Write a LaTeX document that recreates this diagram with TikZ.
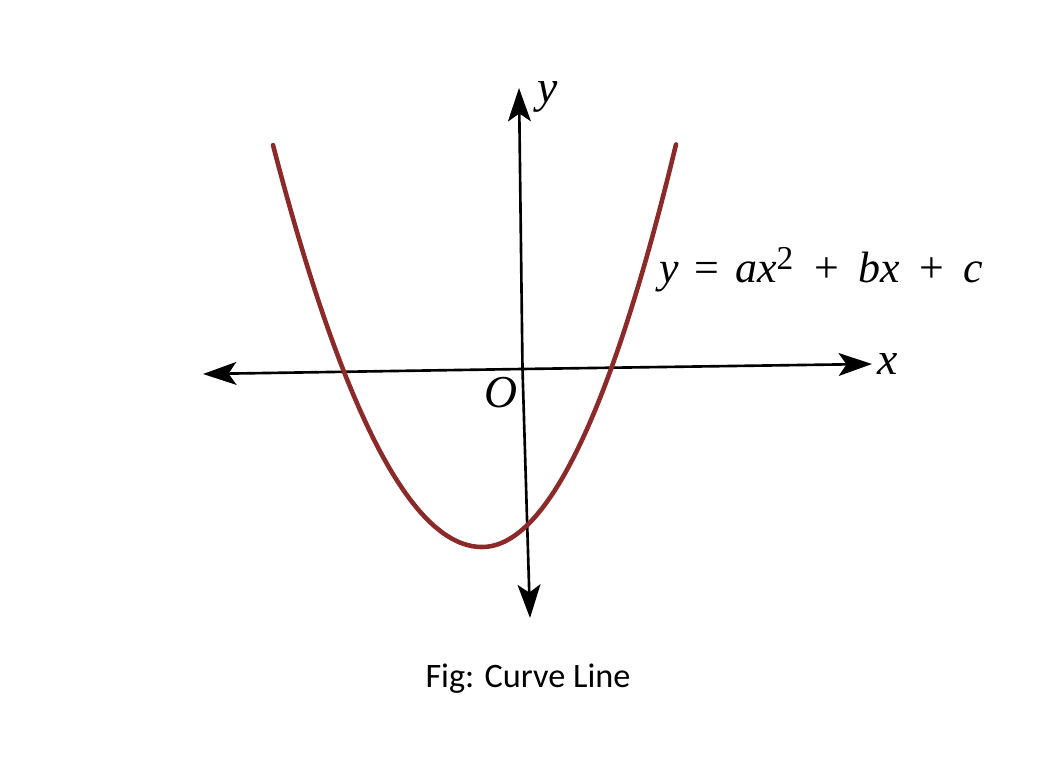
\documentclass[tikz,border=0pt]{standalone}
\usepackage{fontspec}
\setmainfont{Liberation Serif}
\newfontfamily\capfont{Carlito}
\usetikzlibrary{arrows.meta}
\definecolor{curvered}{RGB}{140,42,42}
\begin{document}
\begin{tikzpicture}[x=0.02cm,y=-0.02cm,
  axisline/.style={line width=1.5pt,black,-{Stealth[length=19pt,width=13pt,inset=4.5pt]}},
  curveline/.style={line width=2.6pt,curvered,line cap=round,line join=round},
  lbl/.style={inner sep=0pt,anchor=base,font=\fontsize{26}{30}\selectfont\itshape}]
\useasboundingbox[fill=white] (0,0) rectangle (1064,759);
% axes
\coordinate (ytop) at (519,88);
\coordinate (ybot) at (530,618);
\coordinate (xleft) at (203,374);
\coordinate (xright) at (872,364);
\coordinate (origin) at (522.5,369);
\draw[axisline] (origin) -- (ytop);
\draw[axisline] (origin) -- (ybot);
\draw[axisline] (origin) -- (xleft);
\draw[axisline] (origin) -- (xright);
% parabola (two halves joined smoothly at the vertex)
\coordinate (vertex) at (482,547);
\draw[curveline] plot[domain=273:482,samples=80] (\x,{547-0.0092*(\x-482)*(\x-482)})
  -- plot[domain=482:676,samples=80] (\x,{547-0.0107*(\x-482)*(\x-482)});
% labels
\node[lbl] (ylab) at (548,103) {y};
\node[lbl] (xlab) at (888,375) {x};
\node[lbl] (olab) at (501,408) {O};
\node[inner sep=0pt,anchor=base west,font=\fontsize{25}{30}\selectfont] (eq) at (659,283)
 {\textit{y}\hspace{0.36em}=\hspace{0.36em}\textit{ax}\raisebox{0.3em}{\fontsize{19}{22}\selectfont 2}\hspace{0.48em}+\hspace{0.44em}\textit{bx}\hspace{0.44em}+\hspace{0.44em}\textit{c}};
\node[inner sep=0pt,anchor=base,font=\capfont\fontsize{19.5}{23}\selectfont] (cap) at (528,687) {Fig: Curve Line};
\end{tikzpicture}
\end{document}
